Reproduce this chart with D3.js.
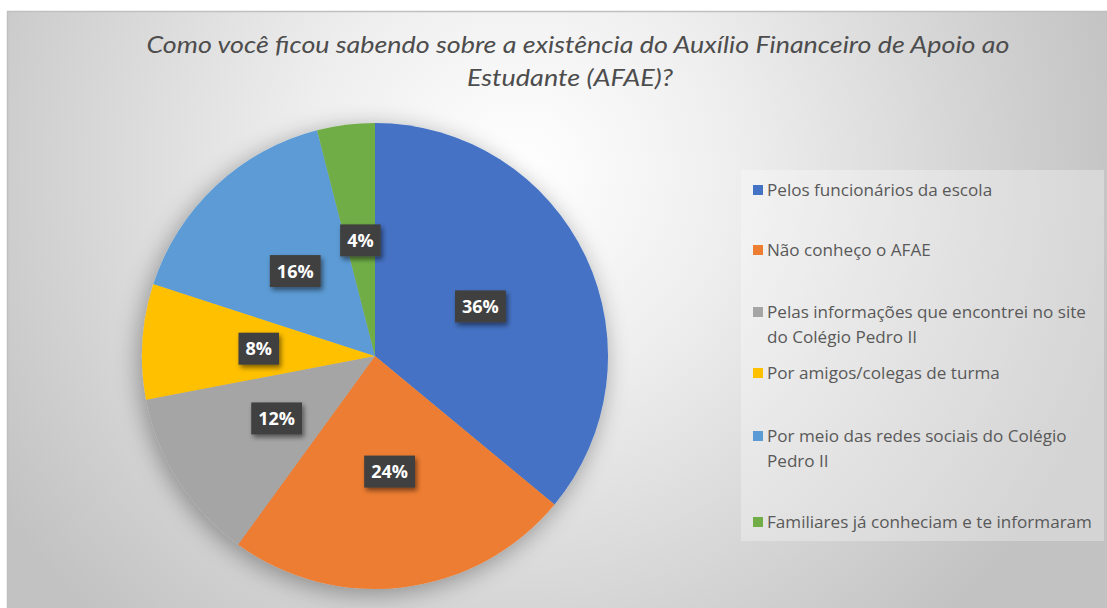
<!DOCTYPE html>
<html><head><meta charset="utf-8">
<script src="https://cdn.jsdelivr.net/npm/d3@7"></script>
<style>body{margin:0;background:#fff;}svg{display:block;}</style>
</head><body>
<script>
const categories = ["Pelos funcionários da escola","Não conheço o AFAE","Pelas informações que encontrei no site do Colégio Pedro II","Por amigos/colegas de turma","Por meio das redes sociais do Colégio Pedro II","Familiares já conheciam e te informaram"];
const legendLines = [["Pelos funcionários da escola"],["Não conheço o AFAE"],["Pelas informações que encontrei no site","do Colégio Pedro II"],["Por amigos/colegas de turma"],["Por meio das redes sociais do Colégio","Pedro II"],["Familiares já conheciam e te informaram"]];
const values = [36,24,12,8,16,4];
const colors = ["#4472C4","#ED7D31","#A5A5A5","#FFC000","#5B9BD5","#70AD47"];
const titleLines = ["Como você ficou sabendo sobre a existência do Auxílio Financeiro de Apoio ao","Estudante (AFAE)?"];

const W=1107,H=608;
const svg=d3.select("body").append("svg").attr("width",W).attr("height",H);
const defs=svg.append("defs");
const rg=defs.append("radialGradient").attr("id","bg").attr("gradientUnits","userSpaceOnUse")
  .attr("cx",520).attr("cy",170).attr("r",620);
rg.append("stop").attr("offset","0").attr("stop-color","#ffffff");
rg.append("stop").attr("offset","0.35").attr("stop-color","#eeeeee");
rg.append("stop").attr("offset","1").attr("stop-color","#c2c2c2");
const f=defs.append("filter").attr("id","pieShadow").attr("x","-20%").attr("y","-20%").attr("width","140%").attr("height","140%");
f.append("feGaussianBlur").attr("in","SourceAlpha").attr("stdDeviation",12).attr("result","b");
f.append("feOffset").attr("in","b").attr("dx",-3).attr("dy",5).attr("result","o");
f.append("feComponentTransfer").attr("in","o").attr("result","o2").append("feFuncA").attr("type","linear").attr("slope",0.35);
const fm=f.append("feMerge");fm.append("feMergeNode").attr("in","o2");fm.append("feMergeNode").attr("in","SourceGraphic");
const f2=defs.append("filter").attr("id","lblShadow").attr("x","-30%").attr("y","-30%").attr("width","160%").attr("height","160%");
f2.append("feGaussianBlur").attr("in","SourceAlpha").attr("stdDeviation",2.5).attr("result","b");
f2.append("feOffset").attr("in","b").attr("dx",2).attr("dy",3).attr("result","o");
f2.append("feComponentTransfer").attr("in","o").attr("result","o2").append("feFuncA").attr("type","linear").attr("slope",0.5);
const fm2=f2.append("feMerge");fm2.append("feMergeNode").attr("in","o2");fm2.append("feMergeNode").attr("in","SourceGraphic");

svg.append("rect").attr("x",7).attr("y",11).attr("width",W-7).attr("height",H-11).attr("fill","url(#bg)");
svg.append("path").attr("d",`M7.5,${H} V11.5 H${W}`).attr("fill","none").attr("stroke","#c0c0c0").attr("stroke-width",1.5);

// title
const tt=svg.append("text").attr("text-anchor","middle").attr("fill","#4d4d4d")
  .style("font-family","Lato").style("font-style","italic").style("font-weight",400).style("font-size","23px");
tt.append("tspan").attr("x",578).attr("y",53).attr("textLength",863).attr("lengthAdjust","spacingAndGlyphs").text(titleLines[0]);
tt.append("tspan").attr("x",570).attr("y",86).attr("textLength",206).attr("lengthAdjust","spacingAndGlyphs").text(titleLines[1]);

// pie
const cx=375,cy=356,R=233;
const pie=d3.pie().sort(null).value(d=>d)(values);
const arc=d3.arc().innerRadius(0).outerRadius(R);
const lblArc=d3.arc().innerRadius(R*0.5).outerRadius(R*0.5);
const g=svg.append("g").attr("transform",`translate(${cx},${cy})`);
g.append("g").attr("filter","url(#pieShadow)").selectAll("path").data(pie).join("path")
  .attr("d",arc).attr("fill",(d,i)=>colors[i]);
const lg=g.selectAll("g.lbl").data(pie).join("g").attr("class","lbl")
  .attr("transform",d=>`translate(${lblArc.centroid(d)})`);
lg.each(function(d){
  const s=d3.select(this);
  const t=s.append("text").attr("text-anchor","middle").attr("dy","0.36em").attr("fill","#fff")
    .style("font-family","Open Sans").style("font-weight",700).style("font-size","18px").text(d.data+"%");
  const w=t.node().getComputedTextLength()+14;
  s.insert("rect","text").attr("x",-w/2).attr("y",-16).attr("width",w).attr("height",32)
    .attr("fill","#404040").attr("filter","url(#lblShadow)");
});

// legend
svg.append("rect").attr("x",741).attr("y",170).attr("width",363).attr("height",371).attr("fill","#ffffff").attr("opacity",0.3);
const legY=[190,250,312,373,436,522];
const leg=svg.append("g");
categories.forEach((c,i)=>{
  leg.append("rect").attr("x",753).attr("y",legY[i]-5).attr("width",10).attr("height",10).attr("fill",colors[i]);
  const t=leg.append("text").attr("fill","#595959").style("font-family","Open Sans").style("font-size","17.1px");
  legendLines[i].forEach((l,j)=>t.append("tspan").attr("x",767).attr("y",legY[i]+j*25).attr("dy","0.35em").text(l));
});
</script>
</body></html>
